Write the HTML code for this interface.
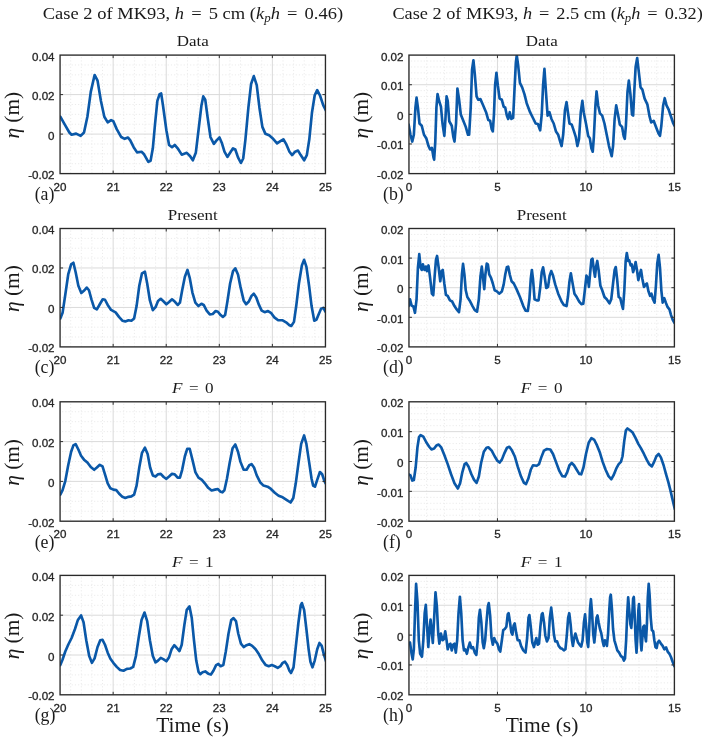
<!DOCTYPE html>
<html lang="en"><head><meta charset="utf-8"><title>Figure</title>
<style>html,body{margin:0;padding:0;background:#fff}svg{display:block}.s{font-family:"Liberation Serif","DejaVu Serif",serif;fill:#1a1a1a}.t{font-family:"Liberation Sans","DejaVu Sans",sans-serif;fill:#262626;font-size:11.6px;stroke:#262626;stroke-width:.3px}.mj{stroke:#dadada;stroke-width:1;fill:none}.mn{stroke:#ebebeb;stroke-width:1;stroke-dasharray:1.2 2;fill:none}.bx{stroke:#2a2a2a;stroke-width:1.35;fill:none}.tk{stroke:#303030;stroke-width:1;fill:none}.cv{stroke:#0a58a8;stroke-width:2.65;fill:none;stroke-linejoin:round;stroke-linecap:round}</style></head><body>
<svg width="709" height="742" viewBox="0 0 709 742">
<rect width="709" height="742" fill="#fff"/>
<text class="s" font-size="16.4" text-anchor="start" transform="translate(42.7 18.7) scale(1.1297 1)">Case 2 of MK93, <tspan font-style="italic">h</tspan> <tspan dx=".13em">=</tspan><tspan dx=".13em"> </tspan>5 cm (<tspan font-style="italic">k</tspan><tspan font-style="italic" font-size="70%" dy="3">p</tspan><tspan font-style="italic" dy="-3">h</tspan> <tspan dx=".13em">=</tspan><tspan dx=".13em"> </tspan>0.46)</text>
<text class="s" font-size="16.4" text-anchor="start" transform="translate(392.4 18.7) scale(1.1161 1)">Case 2 of MK93, <tspan font-style="italic">h</tspan> <tspan dx=".13em">=</tspan><tspan dx=".13em"> </tspan>2.5 cm (<tspan font-style="italic">k</tspan><tspan font-style="italic" font-size="70%" dy="3">p</tspan><tspan font-style="italic" dy="-3">h</tspan> <tspan dx=".13em">=</tspan><tspan dx=".13em"> </tspan>0.32)</text>
<g>
<path class="mn" d="M70.69 57.1V173.6M81.3 57.1V173.6M91.92 57.1V173.6M102.53 57.1V173.6M123.76 57.1V173.6M134.38 57.1V173.6M144.99 57.1V173.6M155.61 57.1V173.6M176.84 57.1V173.6M187.45 57.1V173.6M198.07 57.1V173.6M208.68 57.1V173.6M229.91 57.1V173.6M240.53 57.1V173.6M251.14 57.1V173.6M261.76 57.1V173.6M282.99 57.1V173.6M293.6 57.1V173.6M304.22 57.1V173.6M314.83 57.1V173.6M62.07 64.97H325.45M62.07 74.85H325.45M62.07 84.72H325.45M62.07 104.47H325.45M62.07 114.35H325.45M62.07 124.22H325.45M62.07 143.97H325.45M62.07 153.85H325.45M62.07 163.72H325.45"/>
<path class="mj" d="M113.15 55.1V173.6M166.22 55.1V173.6M219.3 55.1V173.6M272.37 55.1V173.6M60.07 94.6H325.45M60.07 134.1H325.45"/>
<clipPath id="cpa"><rect x="60.07" y="55.1" width="265.38" height="118.5"/></clipPath>
<polyline class="cv" clip-path="url(#cpa)" points="60.31,116.73 64.82,124.63 69.34,132.52 71.59,134.78 76.11,133.65 80.62,135.91 84.01,132.52 87.39,116.73 90.78,91.9 94.61,74.98 97.55,80.62 100.93,100.93 104.32,116.73 107.7,122.37 111.09,120.11 113.34,121.24 116.73,129.14 121.24,137.04 124.63,138.84 128.01,137.49 130.27,140.42 133.65,147.19 137.04,152.38 141.55,151.71 143.81,153.96 148.32,161.86 150.58,160.73 152.83,148.32 155.09,123.5 157.35,100.93 159.61,94.16 161.18,93.48 162.99,105.44 166.38,130.27 169.08,144.94 172.02,147.19 174.72,144.94 177.66,148.32 181.72,154.64 186.77,152.83 190.16,156.22 192.86,160.28 195.8,152.83 198.5,130.27 201.44,105.44 203.24,96.42 205.28,99.8 207.53,116.73 210.47,137.04 213.85,143.81 216.56,140.42 219.49,137.49 221.75,142.68 224.46,151.71 227.39,156.9 230.1,152.83 233.03,148.32 235.29,149.45 238,157.35 240.93,162.99 243.19,158.48 245.44,139.29 248.38,107.7 251.09,84.01 253.79,76.11 256.73,85.13 259.44,107.7 262.37,126.88 265.3,133.65 269.14,135.23 272.52,138.17 277.04,143.36 280.42,141.1 283.36,139.29 286.06,143.81 289.45,151.71 292.16,155.09 295.09,151.71 298.03,150.58 300.73,155.09 304.12,160.28 306.83,155.09 309.31,139.29 312.02,112.21 314.72,95.29 317.21,90.1 319.92,95.29 323.3,105.44 326.23,111.09"/>
<rect class="bx" x="60.07" y="55.1" width="265.38" height="118.5"/>
<path class="tk" d="M113.15 173.6v-3M113.15 55.1v3M166.22 173.6v-3M166.22 55.1v3M219.3 173.6v-3M219.3 55.1v3M272.37 173.6v-3M272.37 55.1v3M60.07 94.6h3M325.45 94.6h-3M60.07 134.1h3M325.45 134.1h-3"/>
<text class="t" x="54.57" y="60.6" text-anchor="end">0.04</text>
<text class="t" x="54.57" y="100.1" text-anchor="end">0.02</text>
<text class="t" x="54.57" y="139.6" text-anchor="end">0</text>
<text class="t" x="54.57" y="179.1" text-anchor="end">-0.02</text>
<text class="t" x="60.07" y="190.7" text-anchor="middle">20</text>
<text class="t" x="113.15" y="190.7" text-anchor="middle">21</text>
<text class="t" x="166.22" y="190.7" text-anchor="middle">22</text>
<text class="t" x="219.3" y="190.7" text-anchor="middle">23</text>
<text class="t" x="272.37" y="190.7" text-anchor="middle">24</text>
<text class="t" x="325.45" y="190.7" text-anchor="middle">25</text>
<text class="s" font-size="14.7" text-anchor="middle" transform="translate(192.76 46.4) scale(1.1566 1)">Data</text>
<text class="s" font-size="20" text-anchor="middle" transform="translate(18.9 115.25) rotate(-90) scale(1.0659 1)"><tspan font-style="italic">η</tspan> (m)</text>
<text class="s" x="34.7" y="199.9" font-size="17.8">(a)</text>
</g>
<g>
<path class="mn" d="M426.66 57.1V173.6M444.35 57.1V173.6M462.05 57.1V173.6M479.74 57.1V173.6M515.14 57.1V173.6M532.83 57.1V173.6M550.53 57.1V173.6M568.22 57.1V173.6M603.62 57.1V173.6M621.31 57.1V173.6M639.01 57.1V173.6M656.7 57.1V173.6M410.96 61.03H674.4M410.96 66.95H674.4M410.96 72.88H674.4M410.96 78.8H674.4M410.96 90.65H674.4M410.96 96.57H674.4M410.96 102.5H674.4M410.96 108.43H674.4M410.96 120.28H674.4M410.96 126.2H674.4M410.96 132.12H674.4M410.96 138.05H674.4M410.96 149.9H674.4M410.96 155.82H674.4M410.96 161.75H674.4M410.96 167.67H674.4"/>
<path class="mj" d="M497.44 55.1V173.6M585.92 55.1V173.6M408.96 84.72H674.4M408.96 114.35H674.4M408.96 143.97H674.4"/>
<clipPath id="cpb"><rect x="408.96" y="55.1" width="265.44" height="118.5"/></clipPath>
<polyline class="cv" clip-path="url(#cpb)" points="408.66,124.63 410.47,134.78 412.27,141.55 413.85,134.78 415.43,107.7 416.56,97.55 417.91,107.7 419.49,123.5 421.75,125.75 424.01,134.78 426.26,138.17 428.52,146.06 430.1,149.45 431.9,147.87 433.48,157.35 434.16,159.61 435.29,141.55 436.42,107.7 437.55,94.16 439.13,100.93 440.93,106.57 442.51,123.5 444.32,135.91 445.44,118.98 446.57,96.42 447.7,100.93 449.28,121.24 451.76,125.75 453.34,137.04 454.47,141.55 456.05,123.5 457.4,88.52 458.98,98.67 460.79,114.47 463.5,121.24 465.75,126.88 468.01,134.78 469.14,134.78 470.72,107.7 472.07,69.34 473.43,60.31 474.78,73.85 476.59,96.42 478.17,99.8 480.42,99.13 482.68,104.32 486.06,112.21 488.32,120.11 490.13,120.79 491.71,129.14 492.83,131.4 493.96,114.47 495.09,85.13 496.45,72.72 497.8,85.13 499.61,98.67 501.86,99.8 503.67,106.57 505.25,107.7 506.83,115.6 508.18,118.98 509.76,112.21 511.34,118.98 513.15,117.86 514.5,89.65 515.85,62.57 516.76,55.35 518.11,64.82 519.92,82.88 522.17,87.39 524.43,94.16 526.69,103.19 530.07,112.21 533.46,118.98 535.64,123.5 537.9,123.95 540.16,130.27 541.73,114.47 543.09,85.13 544.44,68.89 545.8,89.65 547.6,115.6 549.41,112.21 551.44,118.98 553.7,123.5 555.95,131.4 558.21,134.78 560.47,142.68 561.59,146.06 563.17,134.78 564.98,109.96 566.56,102.06 567.91,112.21 569.49,123.5 571.75,124.63 574.01,131.4 575.81,137.04 577.39,146.06 578.97,139.29 580.78,112.21 582.36,100.93 583.71,112.21 585.97,123.5 588.22,135.91 589.8,138.17 591.38,148.32 592.74,151.71 593.86,137.04 595.44,105.44 596.57,91.45 598.15,105.44 599.96,113.34 602.21,115.6 604.47,123.5 606.73,134.78 608.98,146.06 611.69,156.22 613.05,146.06 614.63,118.98 616.21,105.44 618.01,114.47 619.82,124.63 622.07,126.88 623.65,135.91 624.78,138.84 625.91,125.75 627.49,91.9 628.84,80.62 630.42,94.16 632,114.47 633.13,115.6 634.26,91.9 635.61,67.08 637.19,58.05 638.77,71.59 640.58,87.39 642.38,89.65 644.64,98.67 647.35,104.32 649.61,116.73 651.18,122.37 653.67,120.79 656.38,128.01 658.63,133.65 659.99,135.91 661.34,125.75 663.15,105.44 664.72,98.22 666.53,105.44 668.79,109.96 671.04,116.73 673.3,123.5 674.43,125.75"/>
<rect class="bx" x="408.96" y="55.1" width="265.44" height="118.5"/>
<path class="tk" d="M497.44 173.6v-3M497.44 55.1v3M585.92 173.6v-3M585.92 55.1v3M408.96 84.72h3M674.4 84.72h-3M408.96 114.35h3M674.4 114.35h-3M408.96 143.97h3M674.4 143.97h-3"/>
<text class="t" x="403.46" y="60.6" text-anchor="end">0.02</text>
<text class="t" x="403.46" y="90.22" text-anchor="end">0.01</text>
<text class="t" x="403.46" y="119.85" text-anchor="end">0</text>
<text class="t" x="403.46" y="149.47" text-anchor="end">-0.01</text>
<text class="t" x="403.46" y="179.1" text-anchor="end">-0.02</text>
<text class="t" x="408.96" y="190.7" text-anchor="middle">0</text>
<text class="t" x="497.44" y="190.7" text-anchor="middle">5</text>
<text class="t" x="585.92" y="190.7" text-anchor="middle">10</text>
<text class="t" x="674.4" y="190.7" text-anchor="middle">15</text>
<text class="s" font-size="14.7" text-anchor="middle" transform="translate(541.68 46.4) scale(1.1566 1)">Data</text>
<text class="s" font-size="20" text-anchor="middle" transform="translate(367.8 115.25) rotate(-90) scale(1.0659 1)"><tspan font-style="italic">η</tspan> (m)</text>
<text class="s" x="383" y="199.9" font-size="17.8">(b)</text>
</g>
<g>
<path class="mn" d="M70.69 230.5V346.9M81.3 230.5V346.9M91.92 230.5V346.9M102.53 230.5V346.9M123.76 230.5V346.9M134.38 230.5V346.9M144.99 230.5V346.9M155.61 230.5V346.9M176.84 230.5V346.9M187.45 230.5V346.9M198.07 230.5V346.9M208.68 230.5V346.9M229.91 230.5V346.9M240.53 230.5V346.9M251.14 230.5V346.9M261.76 230.5V346.9M282.99 230.5V346.9M293.6 230.5V346.9M304.22 230.5V346.9M314.83 230.5V346.9M62.07 238.37H325.45M62.07 248.23H325.45M62.07 258.1H325.45M62.07 277.83H325.45M62.07 287.7H325.45M62.07 297.57H325.45M62.07 317.3H325.45M62.07 327.17H325.45M62.07 337.03H325.45"/>
<path class="mj" d="M113.15 228.5V346.9M166.22 228.5V346.9M219.3 228.5V346.9M272.37 228.5V346.9M60.07 267.97H325.45M60.07 307.43H325.45"/>
<clipPath id="cpc"><rect x="60.07" y="228.5" width="265.38" height="118.4"/></clipPath>
<polyline class="cv" clip-path="url(#cpc)" points="60.31,318.48 62.57,312.83 65.28,294.78 68.21,274.47 71.14,264.32 73.4,262.74 75.66,272.21 78.36,285.75 81.3,292.98 84.46,290.27 86.71,287.56 88.97,290.27 91.45,299.29 94.16,307.87 96.87,309.45 99.8,304.26 102.74,299.29 104.99,299.75 107.7,304.94 111.09,309.9 115.6,312.38 118.98,316.9 122.37,320.73 125.3,321.41 128.46,320.28 131.4,320.73 134.1,318.48 136.59,306.06 139.29,285.75 142,273.34 144.94,271.76 147.19,283.5 149.9,300.42 152.83,310.13 155.54,307.19 158.03,301.1 160.73,298.84 163.67,301.55 166.38,304.26 169.08,302 172.02,299.29 174.72,301.55 177.66,304.94 179.92,302.68 182.17,290.27 184.88,276.73 187.45,269.96 189.7,277.86 192.41,292.52 195.35,302.68 198.5,306.06 201.44,303.81 203.7,304.94 206.63,310.58 209.79,314.41 212.72,313.96 215.66,311.03 217.91,311.71 220.62,315.09 222.88,316.9 225.13,315.09 227.39,301.55 230.1,283.5 233.03,271.09 235.29,268.38 238,274.47 240.48,286.88 243.64,300.42 246.12,304.26 248.83,301.55 251.54,295.91 253.79,293.65 256.28,297.49 258.98,304.94 261.69,310.58 264.63,312.16 268.01,311.03 270.94,312.83 274.33,317.35 278.17,320.28 282.68,320.28 286.06,322.31 289.45,325.25 291.26,325.92 293.96,321.86 296.22,306.06 298.93,283.5 301.86,265.44 304.12,259.8 306.38,266.57 309.08,285.75 311.57,306.06 314.27,320.73 316.53,319.61 318.79,313.96 321.04,308.77 323.3,307.87 325.56,311.71"/>
<rect class="bx" x="60.07" y="228.5" width="265.38" height="118.4"/>
<path class="tk" d="M113.15 346.9v-3M113.15 228.5v3M166.22 346.9v-3M166.22 228.5v3M219.3 346.9v-3M219.3 228.5v3M272.37 346.9v-3M272.37 228.5v3M60.07 267.97h3M325.45 267.97h-3M60.07 307.43h3M325.45 307.43h-3"/>
<text class="t" x="54.57" y="234" text-anchor="end">0.04</text>
<text class="t" x="54.57" y="273.47" text-anchor="end">0.02</text>
<text class="t" x="54.57" y="312.93" text-anchor="end">0</text>
<text class="t" x="54.57" y="352.4" text-anchor="end">-0.02</text>
<text class="t" x="60.07" y="364" text-anchor="middle">20</text>
<text class="t" x="113.15" y="364" text-anchor="middle">21</text>
<text class="t" x="166.22" y="364" text-anchor="middle">22</text>
<text class="t" x="219.3" y="364" text-anchor="middle">23</text>
<text class="t" x="272.37" y="364" text-anchor="middle">24</text>
<text class="t" x="325.45" y="364" text-anchor="middle">25</text>
<text class="s" font-size="14.7" text-anchor="middle" transform="translate(192.76 219.8) scale(1.1560 1)">Present</text>
<text class="s" font-size="20" text-anchor="middle" transform="translate(18.9 288.6) rotate(-90) scale(1.0659 1)"><tspan font-style="italic">η</tspan> (m)</text>
<text class="s" x="34.7" y="373.2" font-size="17.8">(c)</text>
</g>
<g>
<path class="mn" d="M426.66 230.5V346.9M444.35 230.5V346.9M462.05 230.5V346.9M479.74 230.5V346.9M515.14 230.5V346.9M532.83 230.5V346.9M550.53 230.5V346.9M568.22 230.5V346.9M603.62 230.5V346.9M621.31 230.5V346.9M639.01 230.5V346.9M656.7 230.5V346.9M410.96 234.42H674.4M410.96 240.34H674.4M410.96 246.26H674.4M410.96 252.18H674.4M410.96 264.02H674.4M410.96 269.94H674.4M410.96 275.86H674.4M410.96 281.78H674.4M410.96 293.62H674.4M410.96 299.54H674.4M410.96 305.46H674.4M410.96 311.38H674.4M410.96 323.22H674.4M410.96 329.14H674.4M410.96 335.06H674.4M410.96 340.98H674.4"/>
<path class="mj" d="M497.44 228.5V346.9M585.92 228.5V346.9M408.96 258.1H674.4M408.96 287.7H674.4M408.96 317.3H674.4"/>
<clipPath id="cpd"><rect x="408.96" y="228.5" width="265.44" height="118.4"/></clipPath>
<polyline class="cv" clip-path="url(#cpd)" points="408.66,306.06 410.01,299.29 411.59,305.61 413.4,306.52 414.98,312.83 416.56,299.29 417.91,267.7 419.27,254.16 420.62,267.7 421.75,269.96 422.88,264.32 424.46,269.96 425.81,266.57 426.94,271.09 428.52,265.44 430.1,277.86 431.9,293.65 433.26,295.23 434.61,276.73 435.97,259.8 437.09,255.97 438.67,267.7 440.25,281.24 441.61,271.09 442.74,269.96 444.32,283.5 445.9,294.78 447.7,295.91 449.96,300.42 452.21,301.55 454.47,306.06 456.73,309.45 458.98,312.16 460.56,299.29 461.92,274.47 463.05,263.86 464.4,274.47 465.75,290.27 467.33,297.04 469.59,300.42 472.52,306.06 474.78,310.13 477.04,311.71 478.84,299.29 480.42,276.73 481.78,266.57 482.91,276.73 484.26,289.14 485.39,274.47 486.74,263.64 487.87,264.32 489.22,274.47 491.03,277.86 492.83,283.5 494.64,290.27 496.9,291.4 499.15,293.65 501.86,291.4 503.67,284.63 505.25,274.47 506.83,267.25 508.18,266.57 509.76,274.47 511.57,281.24 513.82,283.5 516.53,289.14 519.92,297.04 523.3,306.06 525.56,310.58 527.81,311.03 529.39,299.29 530.75,278.98 531.88,269.96 533,278.98 534.58,299.29 536.77,300.42 538.58,300.42 540.16,288.01 541.73,272.21 543.09,267.25 544.67,276.73 546.25,288.01 548.05,286.88 549.63,275.6 551.21,271.09 553.02,275.6 555.28,284.63 558.21,293.65 561.59,301.55 563.85,304.94 566.56,306.06 567.91,297.04 569.49,281.24 570.85,273.34 572.43,282.37 574.46,293.65 576.71,297.04 579.2,301.55 581.45,304.26 583.26,303.81 584.84,290.27 586.42,275.6 587.77,277.86 588.9,286.88 590.03,274.47 591.38,259.8 592.51,258.67 593.86,269.96 594.99,276.73 596.12,266.57 597.25,260.93 598.6,269.96 600.41,285.75 602.21,290.27 604.47,297.04 606.73,299.29 609.44,303.36 611.24,299.29 613.05,283.5 614.63,269.96 615.75,267.02 617.11,278.98 618.69,297.04 620.27,298.17 621.85,304.94 622.98,309 624.33,290.27 625.68,260.93 626.81,253.03 628.17,260.93 629.29,260.48 630.65,265.44 631.78,264.32 633.13,272.21 634.49,267.7 635.61,262.06 636.97,269.96 638.32,280.11 639.68,274.47 641.03,269.96 642.38,278.98 643.96,286.88 645.54,284.63 646.9,283.5 648.48,291.4 650.06,295.91 651.41,293.65 652.99,299.29 654.57,302.68 655.92,285.75 657.28,263.19 658.63,254.84 659.99,267.7 661.34,290.27 662.69,302.68 664.27,298.17 665.85,302.68 667.66,307.19 669.46,309.45 671.04,315.09 672.62,319.61 674.43,322.99"/>
<rect class="bx" x="408.96" y="228.5" width="265.44" height="118.4"/>
<path class="tk" d="M497.44 346.9v-3M497.44 228.5v3M585.92 346.9v-3M585.92 228.5v3M408.96 258.1h3M674.4 258.1h-3M408.96 287.7h3M674.4 287.7h-3M408.96 317.3h3M674.4 317.3h-3"/>
<text class="t" x="403.46" y="234" text-anchor="end">0.02</text>
<text class="t" x="403.46" y="263.6" text-anchor="end">0.01</text>
<text class="t" x="403.46" y="293.2" text-anchor="end">0</text>
<text class="t" x="403.46" y="322.8" text-anchor="end">-0.01</text>
<text class="t" x="403.46" y="352.4" text-anchor="end">-0.02</text>
<text class="t" x="408.96" y="364" text-anchor="middle">0</text>
<text class="t" x="497.44" y="364" text-anchor="middle">5</text>
<text class="t" x="585.92" y="364" text-anchor="middle">10</text>
<text class="t" x="674.4" y="364" text-anchor="middle">15</text>
<text class="s" font-size="14.7" text-anchor="middle" transform="translate(541.68 219.8) scale(1.1560 1)">Present</text>
<text class="s" font-size="20" text-anchor="middle" transform="translate(367.8 288.6) rotate(-90) scale(1.0659 1)"><tspan font-style="italic">η</tspan> (m)</text>
<text class="s" x="383" y="373.2" font-size="17.8">(d)</text>
</g>
<g>
<path class="mn" d="M70.69 403.8V521.2M81.3 403.8V521.2M91.92 403.8V521.2M102.53 403.8V521.2M123.76 403.8V521.2M134.38 403.8V521.2M144.99 403.8V521.2M155.61 403.8V521.2M176.84 403.8V521.2M187.45 403.8V521.2M198.07 403.8V521.2M208.68 403.8V521.2M229.91 403.8V521.2M240.53 403.8V521.2M251.14 403.8V521.2M261.76 403.8V521.2M282.99 403.8V521.2M293.6 403.8V521.2M304.22 403.8V521.2M314.83 403.8V521.2M62.07 411.75H325.45M62.07 421.7H325.45M62.07 431.65H325.45M62.07 451.55H325.45M62.07 461.5H325.45M62.07 471.45H325.45M62.07 491.35H325.45M62.07 501.3H325.45M62.07 511.25H325.45"/>
<path class="mj" d="M113.15 401.8V521.2M166.22 401.8V521.2M219.3 401.8V521.2M272.37 401.8V521.2M60.07 441.6H325.45M60.07 481.4H325.45"/>
<clipPath id="cpe"><rect x="60.07" y="401.8" width="265.38" height="119.4"/></clipPath>
<polyline class="cv" clip-path="url(#cpe)" points="60.31,494.61 62.57,490.09 65.28,481.06 68.21,465.27 71.14,451.73 73.4,445.41 75.66,444.06 78.36,449.47 81.07,455.79 84.01,459.63 87.39,462.56 90.78,467.07 94.16,469.78 96.87,467.52 99.8,464.82 102.51,466.4 104.99,474.29 107.7,483.32 110.41,488.29 113.34,489.64 116.28,490.09 118.98,493.48 122.37,496.86 125.3,497.99 128.46,496.86 131.4,496.41 134.1,494.61 136.59,485.58 139.29,467.52 142,452.86 144.94,447.67 147.64,453.98 150.13,467.52 152.83,475.42 155.54,476.55 158.03,474.29 160.73,473.84 163.67,477 166.38,478.81 169.08,476.55 172.02,473.84 174.72,474.29 177.66,477.68 179.92,477.68 182.17,469.78 184.88,456.24 187.22,448.79 189.7,448.79 192.41,459.63 195.35,472.04 198.5,477.68 201.89,479.94 204.82,483.32 208.21,487.83 211.59,490.54 214.98,489.64 217.69,488.96 220.62,491.67 222.43,492.35 224.46,490.09 226.94,478.81 229.65,463.01 232.58,448.34 235.29,444.51 238,451.73 240.48,461.88 243.64,469.78 246.57,469.78 249.28,465.27 251.54,464.14 254.02,467.52 256.73,475.42 260.11,482.19 263.5,485.58 267.56,486.71 270.94,488.96 274.78,492.8 278.62,495.73 282.68,497.31 286.52,499.8 290.58,502.5 293.29,497.99 295.77,483.32 298.48,463.01 301.18,443.83 304.12,435.48 306.38,443.83 309.08,461.88 311.57,478.81 313.15,485.58 314.95,486.71 317.21,479.94 319.92,472.04 322.17,474.29 324.43,481.06 326.23,484.45"/>
<rect class="bx" x="60.07" y="401.8" width="265.38" height="119.4"/>
<path class="tk" d="M113.15 521.2v-3M113.15 401.8v3M166.22 521.2v-3M166.22 401.8v3M219.3 521.2v-3M219.3 401.8v3M272.37 521.2v-3M272.37 401.8v3M60.07 441.6h3M325.45 441.6h-3M60.07 481.4h3M325.45 481.4h-3"/>
<text class="t" x="54.57" y="407.3" text-anchor="end">0.04</text>
<text class="t" x="54.57" y="447.1" text-anchor="end">0.02</text>
<text class="t" x="54.57" y="486.9" text-anchor="end">0</text>
<text class="t" x="54.57" y="526.7" text-anchor="end">-0.02</text>
<text class="t" x="60.07" y="538.3" text-anchor="middle">20</text>
<text class="t" x="113.15" y="538.3" text-anchor="middle">21</text>
<text class="t" x="166.22" y="538.3" text-anchor="middle">22</text>
<text class="t" x="219.3" y="538.3" text-anchor="middle">23</text>
<text class="t" x="272.37" y="538.3" text-anchor="middle">24</text>
<text class="t" x="325.45" y="538.3" text-anchor="middle">25</text>
<text class="s" font-size="15.2" text-anchor="middle" transform="translate(192.76 393) scale(1.1252 1)"><tspan font-style="italic">F</tspan> <tspan dx=".13em">=</tspan><tspan dx=".13em"> </tspan>0</text>
<text class="s" font-size="20" text-anchor="middle" transform="translate(18.9 462.4) rotate(-90) scale(1.0659 1)"><tspan font-style="italic">η</tspan> (m)</text>
<text class="s" x="34.7" y="547.5" font-size="17.8">(e)</text>
</g>
<g>
<path class="mn" d="M426.66 403.8V521.2M444.35 403.8V521.2M462.05 403.8V521.2M479.74 403.8V521.2M515.14 403.8V521.2M532.83 403.8V521.2M550.53 403.8V521.2M568.22 403.8V521.2M603.62 403.8V521.2M621.31 403.8V521.2M639.01 403.8V521.2M656.7 403.8V521.2M410.96 407.77H674.4M410.96 413.74H674.4M410.96 419.71H674.4M410.96 425.68H674.4M410.96 437.62H674.4M410.96 443.59H674.4M410.96 449.56H674.4M410.96 455.53H674.4M410.96 467.47H674.4M410.96 473.44H674.4M410.96 479.41H674.4M410.96 485.38H674.4M410.96 497.32H674.4M410.96 503.29H674.4M410.96 509.26H674.4M410.96 515.23H674.4"/>
<path class="mj" d="M497.44 401.8V521.2M585.92 401.8V521.2M408.96 431.65H674.4M408.96 461.5H674.4M408.96 491.35H674.4"/>
<clipPath id="cpf"><rect x="408.96" y="401.8" width="265.44" height="119.4"/></clipPath>
<polyline class="cv" clip-path="url(#cpf)" points="408.66,474.29 410.47,475.42 412.27,480.61 413.85,479.94 415.66,467.52 417.46,447.21 419.04,437.06 420.62,435.03 423.33,436.61 426.26,442.25 429.2,446.76 431.45,449.47 434.16,448.57 436.42,445.41 438.67,444.51 441.38,447.67 444.32,455.11 447.7,464.14 451.09,474.29 454.47,483.32 457.86,488.51 460.11,483.32 462.37,472.04 464.63,464.14 466.21,463.01 468.46,466.4 471.4,474.29 474.1,479.94 476.59,482.87 478.84,476.55 481.1,463.01 483.81,451.73 486.52,447.67 488.32,447.21 491.71,450.6 494.64,456.24 497.35,460.75 499.61,462.56 501.86,459.63 504.57,452.86 507.05,447.67 509.31,446.76 512.02,450.6 514.72,456.24 517.66,466.4 521.04,476.55 523.98,482.87 526.01,484 528.27,478.81 530.75,469.78 533,465.27 536.77,465.72 539.03,464.14 541.28,457.37 543.99,450.6 546.93,449.02 550.31,449.47 553.02,453.98 555.95,461.88 559.34,470.91 562.27,476.1 564.98,476.55 567.24,472.04 569.49,465.27 571.75,463.01 574.01,465.27 576.71,469.78 579.2,473.84 581.23,474.29 583.48,467.52 585.97,453.98 588.67,442.7 591.38,438.19 594.32,439.99 597.02,445.41 599.96,452.86 602.67,461.88 605.6,469.78 608.53,476.1 611.24,479.26 613.5,475.42 616.21,468.65 618.69,464.14 620.94,461.88 622.52,456.24 624.33,440.44 625.91,430.29 627.49,428.48 629.97,430.29 632.68,432.55 635.61,438.19 638.32,443.83 641.03,448.34 643.96,453.98 646.67,459.63 649.15,464.14 651.86,466.4 654.12,461.88 656.38,456.24 658.63,453.98 660.89,457.37 663.6,465.27 666.08,474.29 668.34,482.19 670.37,490.09 672.17,497.99 673.75,504.76 674.88,509.27"/>
<rect class="bx" x="408.96" y="401.8" width="265.44" height="119.4"/>
<path class="tk" d="M497.44 521.2v-3M497.44 401.8v3M585.92 521.2v-3M585.92 401.8v3M408.96 431.65h3M674.4 431.65h-3M408.96 461.5h3M674.4 461.5h-3M408.96 491.35h3M674.4 491.35h-3"/>
<text class="t" x="403.46" y="407.3" text-anchor="end">0.02</text>
<text class="t" x="403.46" y="437.15" text-anchor="end">0.01</text>
<text class="t" x="403.46" y="467" text-anchor="end">0</text>
<text class="t" x="403.46" y="496.85" text-anchor="end">-0.01</text>
<text class="t" x="403.46" y="526.7" text-anchor="end">-0.02</text>
<text class="t" x="408.96" y="538.3" text-anchor="middle">0</text>
<text class="t" x="497.44" y="538.3" text-anchor="middle">5</text>
<text class="t" x="585.92" y="538.3" text-anchor="middle">10</text>
<text class="t" x="674.4" y="538.3" text-anchor="middle">15</text>
<text class="s" font-size="15.2" text-anchor="middle" transform="translate(541.68 393) scale(1.1252 1)"><tspan font-style="italic">F</tspan> <tspan dx=".13em">=</tspan><tspan dx=".13em"> </tspan>0</text>
<text class="s" font-size="20" text-anchor="middle" transform="translate(367.8 462.4) rotate(-90) scale(1.0659 1)"><tspan font-style="italic">η</tspan> (m)</text>
<text class="s" x="383" y="547.5" font-size="17.8">(f)</text>
</g>
<g>
<path class="mn" d="M70.69 577.4V694.8M81.3 577.4V694.8M91.92 577.4V694.8M102.53 577.4V694.8M123.76 577.4V694.8M134.38 577.4V694.8M144.99 577.4V694.8M155.61 577.4V694.8M176.84 577.4V694.8M187.45 577.4V694.8M198.07 577.4V694.8M208.68 577.4V694.8M229.91 577.4V694.8M240.53 577.4V694.8M251.14 577.4V694.8M261.76 577.4V694.8M282.99 577.4V694.8M293.6 577.4V694.8M304.22 577.4V694.8M314.83 577.4V694.8M62.07 585.35H325.45M62.07 595.3H325.45M62.07 605.25H325.45M62.07 625.15H325.45M62.07 635.1H325.45M62.07 645.05H325.45M62.07 664.95H325.45M62.07 674.9H325.45M62.07 684.85H325.45"/>
<path class="mj" d="M113.15 575.4V694.8M166.22 575.4V694.8M219.3 575.4V694.8M272.37 575.4V694.8M60.07 615.2H325.45M60.07 655H325.45"/>
<clipPath id="cpg"><rect x="60.07" y="575.4" width="265.38" height="119.4"/></clipPath>
<polyline class="cv" clip-path="url(#cpg)" points="60.31,665.09 62.57,659.45 65.28,651.55 68.21,644.78 71.59,638.01 74.98,628.98 77.91,619.96 81.07,615.44 83.55,622.21 86.26,640.27 89.2,656.06 91.9,662.83 94.61,658.32 97.55,647.04 100.25,640.27 102.51,639.82 104.99,644.78 107.7,652.68 110.41,658.77 113.34,662.83 116.73,666.9 120.11,670.06 123.5,670.73 126.88,668.93 130.27,668.48 133.2,666.9 135.91,656.06 138.62,638.01 141.55,619.96 144.49,612.51 147.19,621.09 149.9,640.27 152.83,656.06 155.54,662.38 158.03,660.58 160.73,657.87 163.67,659.45 166.38,661.26 169.08,657.19 171.57,649.29 174.27,645.23 176.98,648.17 179.46,651.1 181.72,644.78 184.43,624.47 186.77,609.8 189.48,606.42 191.73,617.7 193.99,640.27 196.25,660.58 198.5,671.86 200.31,674.12 202.57,672.31 205.28,671.41 208.21,673.67 210.92,674.57 213.4,670.73 216.11,665.09 218.36,663.96 220.62,666.22 223.33,665.09 225.81,651.55 228.52,633.5 231.23,619.96 233.48,618.15 235.97,621.09 238.22,633.5 240.93,643.65 243.64,647.04 246.57,645.23 249.28,644.1 252.21,645.91 255.6,649.29 258.98,654.26 262.37,660.58 265.75,665.09 268.69,666.22 271.85,665.09 274.78,666.22 277.72,667.8 280.42,666.22 282.68,662.83 284.94,661.71 287.19,665.09 289.45,670.73 291.03,672.99 293.51,667.35 295.77,647.04 298.48,622.21 300.73,605.29 301.86,603.03 304.12,609.8 306.38,628.98 308.63,649.29 310.44,661.71 312.47,667.35 314.72,660.58 317.21,649.29 319.46,642.98 321.72,645.91 323.98,654.94 326.23,661.71"/>
<rect class="bx" x="60.07" y="575.4" width="265.38" height="119.4"/>
<path class="tk" d="M113.15 694.8v-3M113.15 575.4v3M166.22 694.8v-3M166.22 575.4v3M219.3 694.8v-3M219.3 575.4v3M272.37 694.8v-3M272.37 575.4v3M60.07 615.2h3M325.45 615.2h-3M60.07 655h3M325.45 655h-3"/>
<text class="t" x="54.57" y="580.9" text-anchor="end">0.04</text>
<text class="t" x="54.57" y="620.7" text-anchor="end">0.02</text>
<text class="t" x="54.57" y="660.5" text-anchor="end">0</text>
<text class="t" x="54.57" y="700.3" text-anchor="end">-0.02</text>
<text class="t" x="60.07" y="711.9" text-anchor="middle">20</text>
<text class="t" x="113.15" y="711.9" text-anchor="middle">21</text>
<text class="t" x="166.22" y="711.9" text-anchor="middle">22</text>
<text class="t" x="219.3" y="711.9" text-anchor="middle">23</text>
<text class="t" x="272.37" y="711.9" text-anchor="middle">24</text>
<text class="t" x="325.45" y="711.9" text-anchor="middle">25</text>
<text class="s" font-size="15.2" text-anchor="middle" transform="translate(192.76 566.6) scale(1.1252 1)"><tspan font-style="italic">F</tspan> <tspan dx=".13em">=</tspan><tspan dx=".13em"> </tspan>1</text>
<text class="s" font-size="20" text-anchor="middle" transform="translate(18.9 636) rotate(-90) scale(1.0659 1)"><tspan font-style="italic">η</tspan> (m)</text>
<text class="s" x="34.7" y="721.1" font-size="17.8">(g)</text>
</g>
<g>
<path class="mn" d="M426.66 577.4V694.8M444.35 577.4V694.8M462.05 577.4V694.8M479.74 577.4V694.8M515.14 577.4V694.8M532.83 577.4V694.8M550.53 577.4V694.8M568.22 577.4V694.8M603.62 577.4V694.8M621.31 577.4V694.8M639.01 577.4V694.8M656.7 577.4V694.8M410.96 581.37H674.4M410.96 587.34H674.4M410.96 593.31H674.4M410.96 599.28H674.4M410.96 611.22H674.4M410.96 617.19H674.4M410.96 623.16H674.4M410.96 629.13H674.4M410.96 641.07H674.4M410.96 647.04H674.4M410.96 653.01H674.4M410.96 658.98H674.4M410.96 670.92H674.4M410.96 676.89H674.4M410.96 682.86H674.4M410.96 688.83H674.4"/>
<path class="mj" d="M497.44 575.4V694.8M585.92 575.4V694.8M408.96 605.25H674.4M408.96 635.1H674.4M408.96 664.95H674.4"/>
<clipPath id="cph"><rect x="408.96" y="575.4" width="265.44" height="119.4"/></clipPath>
<polyline class="cv" clip-path="url(#cph)" points="408.66,643.65 410.01,642.52 411.59,653.81 412.72,659.45 413.85,649.29 414.98,613.19 416.11,583.85 417.46,601.9 418.82,640.27 420.17,653.81 421.97,656.74 423.33,640.27 424.68,613.19 425.81,604.84 426.94,624.47 428.29,647.04 429.42,631.24 430.55,619.51 431.68,631.24 432.81,642.98 434.16,617.7 435.51,592.43 436.87,606.42 438.22,633.5 439.35,643.65 440.93,633.5 442.51,640.27 443.86,639.14 445.22,631.24 446.57,640.27 447.7,649.29 449.06,644.78 450.41,643.65 451.76,650.42 453.12,644.78 454.47,643.65 455.83,652.68 457.18,640.27 458.53,613.19 459.89,596.71 461.24,613.19 462.6,640.27 463.95,650.42 465.3,649.29 466.88,653.81 468.46,647.04 469.82,642.52 471.4,648.17 472.98,647.04 474.78,652.68 476.36,654.94 477.72,640.27 478.84,617.7 479.97,609.8 481.33,622.21 482.68,642.52 483.81,648.17 485.16,640.27 486.52,622.21 487.87,606.42 488.77,603.03 490.13,615.44 491.48,638.01 492.83,644.78 494.19,638.01 495.54,641.4 497.35,643.65 498.93,649.29 500.28,651.55 501.86,640.27 503.22,630.11 504.8,628.98 506.38,626.73 507.73,614.32 508.63,613.19 509.99,622.21 511.34,632.37 512.47,634.63 513.6,625.6 514.72,623.34 516.08,632.37 517.66,640.27 519.46,640.27 521.04,645.91 523.3,650.42 525.56,652.68 527.14,638.01 528.49,617.7 529.39,614.99 530.75,626.73 532.33,642.52 533.91,647.04 536.32,638.01 537.67,644.78 539.03,643.65 540.38,626.73 541.73,614.32 542.64,613.19 543.99,622.21 545.35,635.75 546.93,641.4 548.5,638.01 549.86,617.7 551.21,607.55 552.57,619.96 553.92,634.63 555.28,641.4 557.08,641.4 558.66,645.91 560.47,648.17 562.27,648.84 563.85,650.42 565.43,649.29 566.78,635.75 568.14,617.7 569.27,613.19 570.62,624.47 571.97,640.27 572.88,645.91 574.23,638.01 575.36,633.5 576.71,638.01 578.07,642.52 579.65,644.78 581.23,646.59 582.58,640.27 583.94,622.21 585.06,614.32 586.19,626.73 587.32,642.52 588.22,647.04 589.13,631.24 590.03,608.67 590.93,599.2 592.06,613.19 593.19,633.5 594.32,642.52 595.44,631.24 596.57,617.7 597.48,615.44 598.6,622.21 599.96,628.98 601.31,633.5 602.67,641.4 603.79,645.91 604.92,640.27 606.05,642.52 606.95,645.91 608.08,633.5 609.21,610.93 610.11,597.39 610.79,594.68 611.92,608.67 613.05,628.98 614.4,640.27 615.75,644.78 617.33,650.42 619.14,652.68 620.94,656.06 622.52,657.19 623.88,660.58 625.01,658.32 626.14,640.27 627.26,613.19 628.17,597.39 629.29,610.93 630.42,624.47 631.33,627.86 632.23,615.44 633.13,598.52 633.81,596.94 634.71,615.44 635.61,640.27 636.52,652.68 637.42,635.75 638.32,610.93 639,604.16 639.9,619.96 640.8,642.52 641.48,650.42 642.38,638.01 643.29,626.73 644.19,625.6 645.09,635.75 645.99,641.4 646.9,624.47 647.8,597.39 648.7,583.85 649.61,595.13 650.73,617.7 651.86,630.11 653.22,631.24 654.34,640.27 655.47,647.04 656.6,648.17 657.73,642.52 659.08,640.72 660.89,643.65 662.69,645.91 664.27,649.29 666.08,647.49 667.66,651.55 669.46,653.81 671.04,657.19 672.62,661.71 674.43,666.22"/>
<rect class="bx" x="408.96" y="575.4" width="265.44" height="119.4"/>
<path class="tk" d="M497.44 694.8v-3M497.44 575.4v3M585.92 694.8v-3M585.92 575.4v3M408.96 605.25h3M674.4 605.25h-3M408.96 635.1h3M674.4 635.1h-3M408.96 664.95h3M674.4 664.95h-3"/>
<text class="t" x="403.46" y="580.9" text-anchor="end">0.02</text>
<text class="t" x="403.46" y="610.75" text-anchor="end">0.01</text>
<text class="t" x="403.46" y="640.6" text-anchor="end">0</text>
<text class="t" x="403.46" y="670.45" text-anchor="end">-0.01</text>
<text class="t" x="403.46" y="700.3" text-anchor="end">-0.02</text>
<text class="t" x="408.96" y="711.9" text-anchor="middle">0</text>
<text class="t" x="497.44" y="711.9" text-anchor="middle">5</text>
<text class="t" x="585.92" y="711.9" text-anchor="middle">10</text>
<text class="t" x="674.4" y="711.9" text-anchor="middle">15</text>
<text class="s" font-size="15.2" text-anchor="middle" transform="translate(541.68 566.6) scale(1.1252 1)"><tspan font-style="italic">F</tspan> <tspan dx=".13em">=</tspan><tspan dx=".13em"> </tspan>1</text>
<text class="s" font-size="20" text-anchor="middle" transform="translate(367.8 636) rotate(-90) scale(1.0659 1)"><tspan font-style="italic">η</tspan> (m)</text>
<text class="s" x="383" y="721.1" font-size="17.8">(h)</text>
</g>
<text class="s" font-size="19.9" text-anchor="middle" transform="translate(192.5 732.3) scale(1.0822 1)">Time (s)</text>
<text class="s" font-size="19.9" text-anchor="middle" transform="translate(542 732.3) scale(1.0822 1)">Time (s)</text>
</svg></body></html>
